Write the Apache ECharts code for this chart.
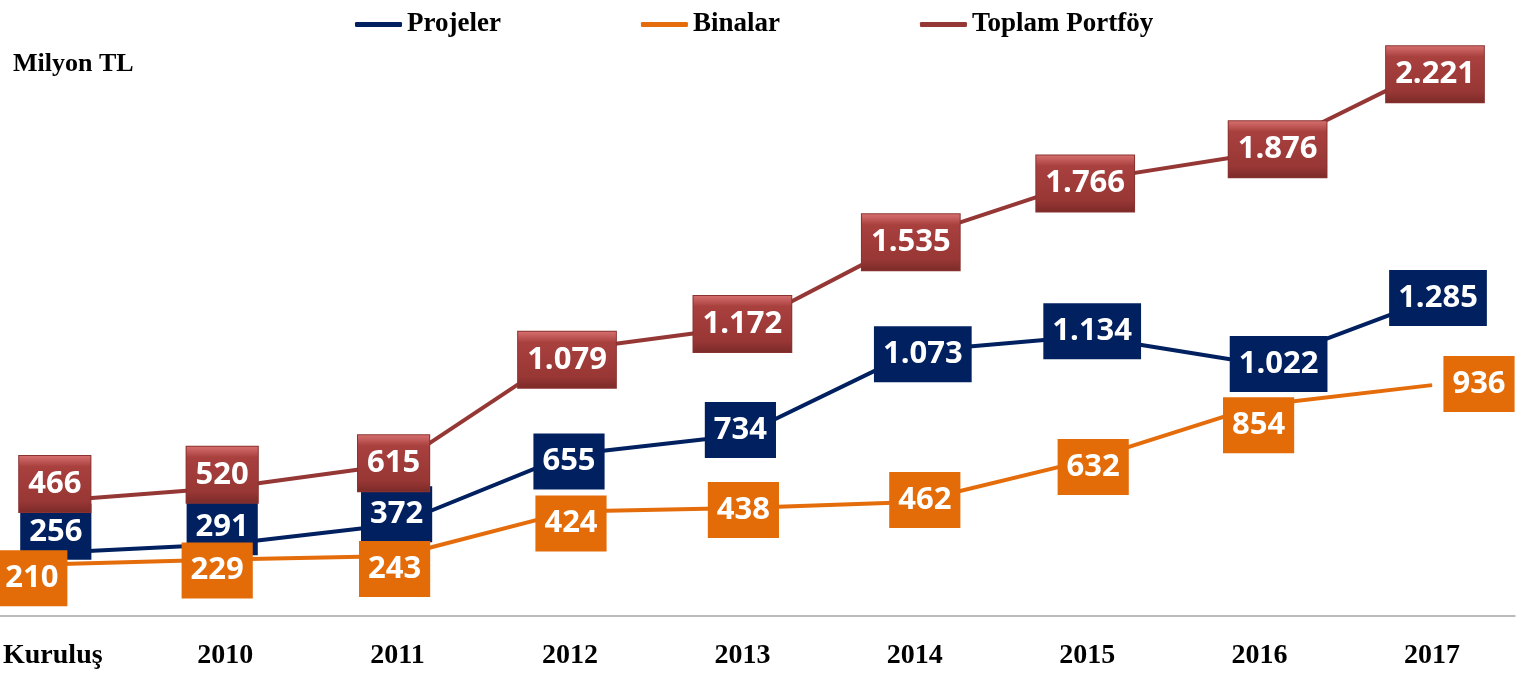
<!DOCTYPE html>
<html>
<head>
<meta charset="utf-8">
<script src="https://cdn.jsdelivr.net/npm/echarts@6/dist/echarts.min.js"></script>
<style>
  html, body { margin: 0; padding: 0; background: #fff; }
  #chart { width: 1523px; height: 675px; }
</style>
</head>
<body>
<div id="chart"></div>
<script>
// kategoriler ve seriler (Milyon TL)
var categories = ['Kuruluş', '2010', '2011', '2012', '2013', '2014', '2015', '2016', '2017'];
var projeler = [256, 291, 372, 655, 734, 1073, 1134, 1022, 1285];
var binalar = [210, 229, 243, 424, 438, 462, 632, 854, 936];
var toplam = [466, 520, 615, 1079, 1172, 1535, 1766, 1876, 2221];

// etiket kutularinin noktaya gore kaydirmalari (sadece gorunum)
var offProjeler = [[3, -21], [-3, -17], [-1, -10], [-1, 7], [-2, -5], [8, 3], [5, -5], [19, 0], [6, -1]];
var offBinalar = [[-21, 14], [-8, 11], [-3, 13], [1, 12], [1, 2], [10, -2], [6, 7], [-1, 20], [47, -1]];
var offToplam = [[2, -17], [-3, -13], [-4, -1], [-3, 10], [0, -3], [-4, 5], [-2, 3], [18, -4], [3, 6]];

var serifFont = "'Liberation Serif', 'Times New Roman', serif";
var labelFont = "'Open Sans', sans-serif";

function fmt(p) {
    return String(p.value).replace(/\B(?=(\d{3})+(?!\d))/g, '.');
}

function withOffsets(values, offs) {
    return values.map(function (v, i) {
        return { value: v, label: { offset: offs[i] } };
    });
}

function makeLabel(bg, border) {
    return {
        show: true,
        position: 'inside',
        formatter: fmt,
        color: '#fff',
        fontFamily: labelFont,
        fontWeight: 'bold',
        fontSize: 31,
        lineHeight: 34,
        padding: [11, 9],
        backgroundColor: bg,
        borderColor: border || 'transparent',
        borderWidth: border ? 1 : 0
    };
}

var myChart = echarts.init(document.getElementById('chart'));

var redBox = new echarts.graphic.LinearGradient(0, 0, 0, 1, [
    { offset: 0, color: '#d87270' },
    { offset: 0.2, color: '#a8403e' },
    { offset: 0.8, color: '#983735' },
    { offset: 1, color: '#7a2a28' }
]);

myChart.setOption({
    animation: false,
    title: {
        text: 'Milyon TL',
        left: 8,
        top: 46,
        textStyle: { fontFamily: serifFont, fontWeight: 'bold', fontSize: 26, color: '#000' }
    },
    legend: {
        left: 350,
        top: 6,
        itemGap: 140,
        itemWidth: 47,
        itemHeight: 5,
        icon: 'roundRect',
        textStyle: { fontFamily: serifFont, fontWeight: 'bold', fontSize: 27, color: '#000' },
        data: ['Projeler', 'Binalar', 'Toplam Portföy']
    },
    grid: [
        { left: 50, right: 91, top: 24, bottom: 59 },
        // sadece tam genislikteki eksen cizgisi icin
        { left: 0, right: 8, top: 24, bottom: 59 }
    ],
    xAxis: [
        {
            type: 'category',
            data: categories,
            boundaryGap: false,
            axisLine: { show: false },
            axisTick: { show: false },
            axisLabel: {
                margin: 26,
                fontFamily: serifFont,
                fontWeight: 'bold',
                fontSize: 28,
                color: '#000'
            }
        },
        {
            type: 'value',
            gridIndex: 1,
            min: 0,
            max: 1,
            axisLine: { show: true, onZero: false, lineStyle: { color: '#a6a6a6', width: 1.5 } },
            axisTick: { show: false },
            axisLabel: { show: false },
            splitLine: { show: false }
        }
    ],
    yAxis: [
        { type: 'value', min: 0, max: 2400, show: false, splitLine: { show: false } },
        { type: 'value', gridIndex: 1, min: 0, max: 1, show: false, splitLine: { show: false } }
    ],
    series: [
        {
            name: 'Projeler',
            type: 'line',
            data: withOffsets(projeler, offProjeler),
            symbol: 'circle',
            symbolSize: 1,
            itemStyle: { color: '#002060' },
            lineStyle: { color: '#002060', width: 4 },
            label: makeLabel('#002060'),
            emphasis: { disabled: true }
        },
        {
            name: 'Binalar',
            type: 'line',
            data: withOffsets(binalar, offBinalar),
            symbol: 'circle',
            symbolSize: 1,
            itemStyle: { color: '#e46c0a' },
            lineStyle: { color: '#e46c0a', width: 4 },
            label: makeLabel('#e36c09'),
            emphasis: { disabled: true }
        },
        {
            name: 'Toplam Portföy',
            type: 'line',
            data: withOffsets(toplam, offToplam),
            symbol: 'circle',
            symbolSize: 1,
            itemStyle: { color: '#953735' },
            lineStyle: { color: '#953735', width: 4 },
            label: makeLabel(redBox, '#8a3230'),
            emphasis: { disabled: true }
        }
    ]
});
</script>
</body>
</html>
